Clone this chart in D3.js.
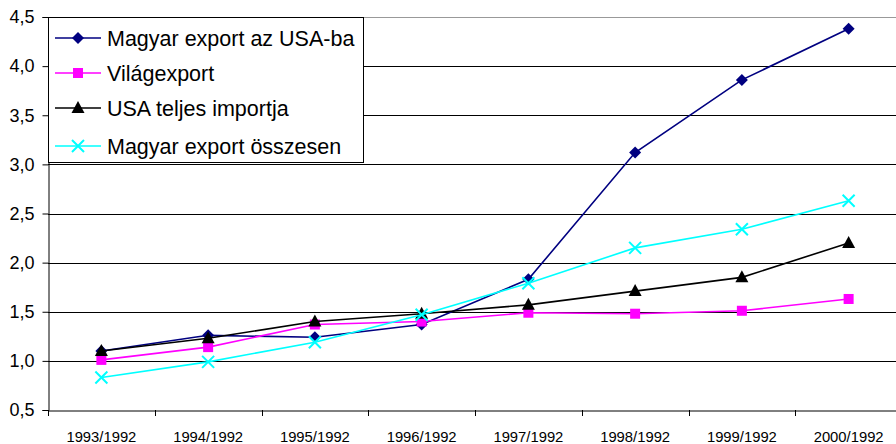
<!DOCTYPE html>
<html>
<head>
<meta charset="utf-8">
<style>
body { margin:0; background:#fff; }
svg text { font-family: "Liberation Sans", Arial, sans-serif; }
</style>
</head>
<body>
<svg id="chart" width="896" height="444"></svg>
<script src="https://cdn.jsdelivr.net/npm/d3@7"></script>
<script>
// categories and series
var categories = ["1993/1992","1994/1992","1995/1992","1996/1992","1997/1992","1998/1992","1999/1992","2000/1992"];
var usaExport  = [1.10, 1.26, 1.24, 1.37, 1.83, 3.12, 3.86, 4.38];
var worldExport = [1.01, 1.14, 1.37, 1.40, 1.49, 1.48, 1.51, 1.63];
var usaImport  = [1.10, 1.23, 1.40, 1.48, 1.57, 1.71, 1.85, 2.20];
var huExport   = [0.83, 0.99, 1.19, 1.47, 1.79, 2.15, 2.34, 2.63];
var yTicks = [0.5, 1.0, 1.5, 2.0, 2.5, 3.0, 3.5, 4.0, 4.5];

var series = [
  {name:"Magyar export az USA-ba", values:usaExport, color:"#000080", marker:"diamond"},
  {name:"Világexport", values:worldExport, color:"#FF00FF", marker:"square"},
  {name:"USA teljes importja", values:usaImport, color:"#000000", marker:"triangle"},
  {name:"Magyar export összesen", values:huExport, color:"#00FFFF", marker:"cross"}
];

var svg = d3.select("#chart");
var plotL = 48, plotR = 902, plotT = 17, plotB = 410;

var x = d3.scaleBand().domain(categories).range([plotL, plotR]);
var y = d3.scaleLinear().domain([0.5, 4.5]).range([plotB, plotT]);
var fmt = function(d){ return d3.format(".1f")(d).replace(".", ","); };

// gridlines
svg.append("g").selectAll("line").data(yTicks.slice(1)).enter().append("line")
  .attr("x1", plotL).attr("x2", plotR)
  .attr("y1", function(d){ return Math.round(y(d)) + 0.5; })
  .attr("y2", function(d){ return Math.round(y(d)) + 0.5; })
  .attr("stroke", function(d){ return d == 4.5 ? "#999" : "#000"; })
  .attr("stroke-width", 1);

// y axis
var yAxis = svg.append("g").attr("transform", "translate(" + (plotL + 0.5) + ",0)")
  .call(d3.axisLeft(y).tickValues(yTicks).tickFormat(fmt).tickSize(6).tickPadding(8));
yAxis.select(".domain").attr("stroke", "#000");
yAxis.selectAll("text").attr("font-size", 18).attr("fill", "#000")
  .attr("font-family", "Liberation Sans, Arial, sans-serif");

// x axis
var xAxis = svg.append("g").attr("transform", "translate(0," + (Math.round(plotB) + 0.5) + ")")
  .call(d3.axisBottom(x).tickSize(0).tickPadding(21));
xAxis.select(".domain").attr("stroke", "#000");
xAxis.selectAll("text").attr("font-size", 14.8).attr("fill", "#000")
  .attr("font-family", "Liberation Sans, Arial, sans-serif");
svg.append("g").selectAll("line").data(categories.concat(["end"])).enter().append("line")
  .attr("x1", function(d, i){ return Math.round(plotL + i * x.bandwidth()) + 0.5; })
  .attr("x2", function(d, i){ return Math.round(plotL + i * x.bandwidth()) + 0.5; })
  .attr("y1", plotB).attr("y2", plotB + 6).attr("stroke", "#000");

function drawMarker(g, type, color, cx, cy) {
  if (type == "diamond") {
    g.append("path").attr("d", "M" + cx + "," + (cy-6) + "L" + (cx+6) + "," + cy + "L" + cx + "," + (cy+6) + "L" + (cx-6) + "," + cy + "Z")
      .attr("fill", color);
  } else if (type == "square") {
    g.append("rect").attr("x", cx-5).attr("y", cy-5).attr("width", 10).attr("height", 10).attr("fill", color);
  } else if (type == "triangle") {
    g.append("path").attr("d", "M" + cx + "," + (cy-7) + "L" + (cx+6.5) + "," + (cy+5) + "L" + (cx-6.5) + "," + (cy+5) + "Z")
      .attr("fill", color);
  } else {
    g.append("path").attr("d", "M" + (cx-6) + "," + (cy-6) + "L" + (cx+6) + "," + (cy+6) + "M" + (cx+6) + "," + (cy-6) + "L" + (cx-6) + "," + (cy+6))
      .attr("stroke", color).attr("stroke-width", 2).attr("fill", "none");
  }
}

var line = d3.line()
  .x(function(d, i){ return x(categories[i]) + x.bandwidth()/2; })
  .y(function(d){ return y(d); });

series.forEach(function(s) {
  var g = svg.append("g");
  g.append("path").datum(s.values).attr("d", line)
    .attr("fill", "none").attr("stroke", s.color).attr("stroke-width", 1.6);
  s.values.forEach(function(v, i) {
    drawMarker(g, s.marker, s.color, x(categories[i]) + x.bandwidth()/2, y(v));
  });
});

// legend
var lg = svg.append("g");
lg.append("rect").attr("x", plotL + 0.5).attr("y", plotT + 0.5).attr("width", 315).attr("height", 145)
  .attr("fill", "#fff").attr("stroke", "#000");
var rowY = [38, 73, 108, 146];
series.forEach(function(s, i) {
  lg.append("line").attr("x1", 55).attr("x2", 101).attr("y1", rowY[i]).attr("y2", rowY[i])
    .attr("stroke", s.color).attr("stroke-width", 1.6);
  drawMarker(lg, s.marker, s.color, 78, rowY[i]);
  lg.append("text").attr("x", 107).attr("y", rowY[i] + 7.5).attr("font-size", 21.5).attr("fill", "#000").text(s.name);
});
</script>
</body>
</html>
